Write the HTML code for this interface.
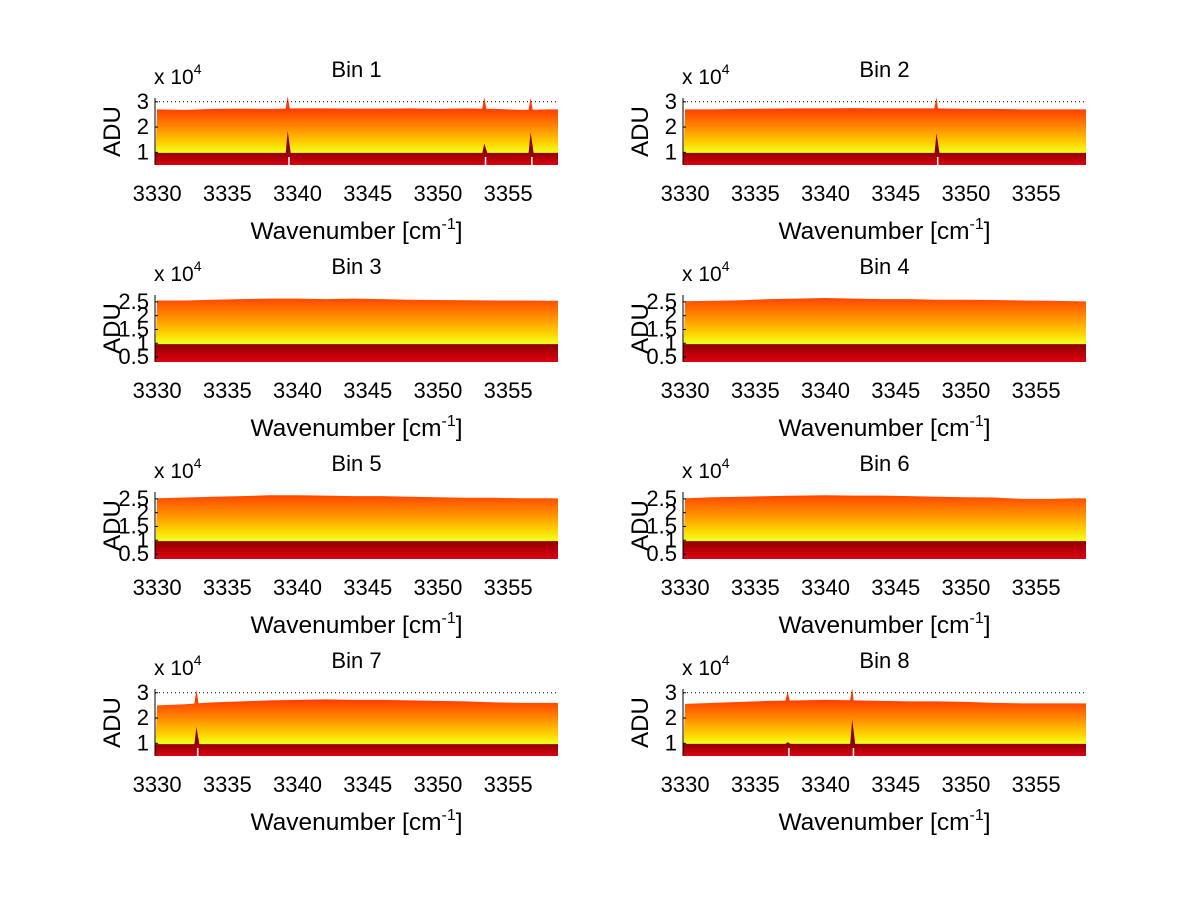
<!DOCTYPE html>
<html><head><meta charset="utf-8"><style>
html,body{margin:0;padding:0;background:#fff;}
svg{display:block;font-family:"Liberation Sans",sans-serif;}
</style></head><body>
<svg id="fig" width="1200" height="901" viewBox="0 0 1200 901"></svg>
<script>
// x samples (wavenumber, cm^-1)
const xSamples = [3330,3332,3334,3336,3338,3340,3342,3344,3346,3348,3350,3352,3354,3356,3358];
const binNames = ["Bin 1","Bin 2","Bin 3","Bin 4","Bin 5","Bin 6","Bin 7","Bin 8"];
// upper envelope (x1e4)
const top1 = [2.70,2.68,2.72,2.73,2.72,2.74,2.74,2.73,2.73,2.74,2.72,2.74,2.72,2.68,2.70];
const top2 = [2.70,2.70,2.72,2.73,2.74,2.74,2.75,2.74,2.74,2.74,2.72,2.72,2.70,2.70,2.70];
const top3 = [2.55,2.55,2.58,2.60,2.62,2.62,2.60,2.62,2.60,2.58,2.57,2.56,2.55,2.55,2.54];
const top4 = [2.52,2.54,2.56,2.60,2.62,2.64,2.62,2.60,2.60,2.58,2.58,2.57,2.55,2.54,2.52];
const top5 = [2.52,2.55,2.58,2.60,2.63,2.63,2.62,2.60,2.60,2.58,2.56,2.54,2.54,2.52,2.52];
const top6 = [2.52,2.56,2.58,2.60,2.62,2.63,2.62,2.62,2.60,2.58,2.56,2.55,2.50,2.50,2.52];
const top7 = [2.50,2.55,2.62,2.66,2.70,2.72,2.74,2.72,2.72,2.70,2.68,2.66,2.62,2.60,2.60];
const top8 = [2.56,2.60,2.64,2.68,2.70,2.72,2.70,2.68,2.66,2.66,2.64,2.60,2.58,2.58,2.58];
const binTops = [top1,top2,top3,top4,top5,top6,top7,top8];
// dark band level (x1e4)
const lowLevels = [0.98,0.98,0.97,0.97,0.97,0.97,0.97,0.98];
// spikes: position, peak of upper, peak of lower band
const spikeX = [[3339.3,3353.3,3356.6],[3347.9],[],[],[],[],[3332.8],[3337.3,3341.9]];
const spikeTop = [[3.22,3.18,3.15],[3.18],[],[],[],[],[3.12],[3.05,3.18]];
const spikeLow = [[1.85,1.35,1.8],[1.75],[],[],[],[],[1.65],[1.05,1.95]];
const xTicks = [3330,3335,3340,3345,3350,3355];
const yTicksA = [1,2,3];
const yTicksB = [0.5,1,1.5,2,2.5];
const yLimA = [0.5,3.15];
const yLimB = [0.32,2.75];
const xLim = [3329.85,3358.55];

const NS="http://www.w3.org/2000/svg";
const svg=document.getElementById('fig');
function mk(tag,attrs,parent){const e=document.createElementNS(NS,tag);for(const k in attrs)e.setAttribute(k,attrs[k]);(parent||svg).appendChild(e);return e;}
const defs=mk('defs',{});

for(let i=0;i<8;i++){
  const col=i%2,row=Math.floor(i/2);
  const L=col?683:155, R=col?1086:558, T=98+row*197, B=165+row*197;
  const ylim=(row===1||row===2)?yLimB:yLimA;
  const yt=(row===1||row===2)?yTicksB:yTicksA;
  const sx=v=>L+(v-xLim[0])/(xLim[1]-xLim[0])*(R-L);
  const sy=v=>B-(v-ylim[0])/(ylim[1]-ylim[0])*(B-T);
  const g=mk('g',{});
  
  
  const gu=mk('linearGradient',{id:'gu'+i,gradientUnits:'userSpaceOnUse',x1:0,x2:0,y1:sy(2.75),y2:sy(1.0)},defs);
  [['0','#ff3a00'],['0.45','#ff8c00'],['0.8','#ffd400'],['1','#f0ff20']].forEach(s=>mk('stop',{offset:s[0],'stop-color':s[1]},gu));
  const gl=mk('linearGradient',{id:'gl'+i,gradientUnits:'userSpaceOnUse',x1:0,x2:0,y1:sy(1.0),y2:B},defs);
  [['0','#8a0000'],['1','#e00010']].forEach(s=>mk('stop',{offset:s[0],'stop-color':s[1]},gl));
  const tops=binTops[i];
  let pts=[];
  xSamples.forEach((x,k)=>pts.push([x,tops[k]]));
  spikeX[i].forEach((sxv,k)=>{pts.push([sxv-0.15,null]);pts.push([sxv,spikeTop[i][k]]);pts.push([sxv+0.15,null]);});
  pts.sort((a,b)=>a[0]-b[0]);
  const interp=x=>{for(let k=0;k<xSamples.length-1;k++){if(x<=xSamples[k+1]){const f=(x-xSamples[k])/(xSamples[k+1]-xSamples[k]);return tops[k]+f*(tops[k+1]-tops[k]);}}return tops[tops.length-1];};
  pts=pts.map(p=>[p[0],p[1]===null?interp(p[0]):p[1]]).filter(p=>p[0]>=xLim[0]&&p[0]<=xLim[1]);
  let d='M'+sx(xLim[0])+','+B+' '+pts.map(p=>'L'+sx(p[0]).toFixed(1)+','+sy(p[1]).toFixed(1)).join(' ')+' L'+sx(xLim[1])+','+sy(interp(xLim[1]))+' L'+sx(xLim[1])+','+B+'Z';
  const up=mk('path',{d:d,fill:'url(#gu'+i+')'},g);
  
  
  let ld='M'+L+','+B+' L'+L+','+sy(lowLevels[i]);
  spikeX[i].forEach((sxv,k)=>{ld+=' L'+(sx(sxv)-2).toFixed(1)+','+sy(lowLevels[i]).toFixed(1)+' L'+sx(sxv).toFixed(1)+','+sy(spikeLow[i][k]).toFixed(1)+' L'+(sx(sxv)+3).toFixed(1)+','+sy(lowLevels[i]).toFixed(1);});
  ld+=' L'+R+','+sy(lowLevels[i])+' L'+R+','+B+'Z';
  const lo=mk('path',{d:ld,fill:'url(#gl'+i+')'},g);
  
  
  spikeX[i].forEach((sxv,k)=>{
    const w=mk('rect',{x:sx(sxv)+0.5,y:B-8,width:1.5,height:8,fill:'#fff'},g);
    
    
  });
  if(row===0||row===3){
    const dl=mk('line',{x1:L,x2:R,y1:sy(3.0),y2:sy(3.0),stroke:'#000','stroke-width':1,'stroke-dasharray':'1,3'},g);
    
    
  }
  yt.forEach(v=>{
    mk('line',{x1:L,x2:L+3,y1:sy(v),y2:sy(v),stroke:'#000'},g);
    const t=mk('text',{x:L-6,y:sy(v)+7,'text-anchor':'end','font-size':22},g);
    t.textContent=String(v);
    
    
  });
  mk('line',{x1:L,x2:L,y1:T,y2:B,stroke:'#000'},g);
  xTicks.forEach(v=>{
    const t=mk('text',{x:sx(v),y:B+36,'text-anchor':'middle','font-size':22},g);
    t.textContent=String(v);
    
    
  });
  const ti=mk('text',{x:(L+R)/2,y:T-21,'text-anchor':'middle','font-size':22},g);
  ti.textContent=binNames[i];
  
  
  const ex=mk('text',{x:L-1,y:T-14,'font-size':21},g);
  ex.innerHTML='x 10<tspan dy="-10" font-size="14">4</tspan>';
  
  
  const yl=mk('text',{x:0,y:0,'text-anchor':'middle','font-size':24,transform:'translate('+(L-35)+','+((T+B)/2)+') rotate(-90)'},g);
  yl.textContent='ADU';
  
  
  const xl=mk('text',{x:(L+R)/2,y:B+74,'text-anchor':'middle','font-size':24.5},g);
  xl.innerHTML='Wavenumber [cm<tspan dy="-10" font-size="16">-1</tspan><tspan dy="10">]</tspan>';
  
  
}
</script>
</body></html>
